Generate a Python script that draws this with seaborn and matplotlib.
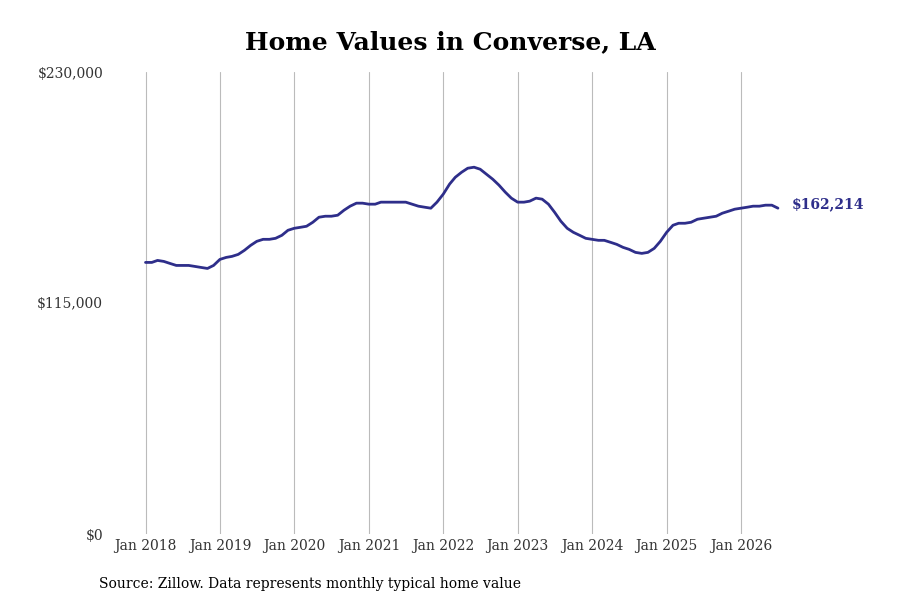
import matplotlib
matplotlib.use("Agg")
import matplotlib.pyplot as plt
import seaborn as sns
import pandas as pd

values_k = [
 135.2,135.2,136.2,135.7,134.7,133.7,133.7,133.7,133.2,132.7,132.2,133.7,
 136.7,137.7,138.2,139.2,141.2,143.7,145.7,146.7,146.7,147.2,148.7,151.2,
 152.2,152.7,153.2,155.2,157.7,158.2,158.2,158.7,161.2,163.2,164.7,164.7,
 164.2,164.2,165.2,165.2,165.2,165.2,165.2,164.2,163.2,162.7,162.2,165.2,
 169.2,174.2,177.6,180.1,182.1,182.6,181.6,179.1,176.6,173.7,170.2,167.2,
 165.2,165.2,165.7,167.2,166.7,164.2,160.2,155.7,152.2,150.2,148.7,147.2,
 146.7,146.2,146.2,145.2,144.2,142.7,141.7,140.2,139.7,140.2,142.2,145.7,
 150.2,153.7,154.7,154.7,155.2,156.7,157.2,157.7,158.2,159.7,160.7,161.7,
 162.2,162.7,163.2,163.2,163.7,163.7,162.214,
]
dates = pd.date_range("2018-01-01", periods=len(values_k), freq="MS")
values = [v * 1000 for v in values_k]
df = pd.DataFrame({"date": dates, "value": values})

sns.set_theme(style="white")
plt.rcParams["font.family"] = ["DejaVu Serif"]
fig, ax = plt.subplots(figsize=(9, 6), dpi=100)
fig.subplots_adjust(left=0.12, right=0.88, top=0.88, bottom=0.11)
sns.lineplot(data=df, x="date", y="value", ax=ax, color="#2e2e8a", linewidth=2)
ax.set_ylim(0, 230000)
ax.set_yticks([0, 115000, 230000])
ax.set_yticklabels(["$0", "$115,000", "$230,000"], fontsize=10, color="#333333")
ticks = pd.date_range("2018-01-01", "2026-01-01", freq="YS")
ax.set_xticks(ticks)
ax.set_xticklabels([f"Jan {d.year}" for d in ticks], fontsize=10, color="#333333")
ax.set_xlim(pd.Timestamp("2017-07-01"), pd.Timestamp("2026-09-08"))
ax.grid(axis="x", color="#bbbbbb", linewidth=0.8)
ax.grid(axis="y", visible=False)
for s in ax.spines.values():
    s.set_visible(False)
ax.tick_params(axis="both", length=0)
ax.set_xlabel(""); ax.set_ylabel("")
ax.annotate(f"${values[-1]:,.0f}", (df["date"].iloc[-1], values[-1]), xytext=(10, 3),
            textcoords="offset points", va="center", fontsize=10, fontweight="bold",
            color="#2e2e8a", annotation_clip=False)
fig.suptitle("Home Values in Converse, LA", fontsize=18, fontweight="bold", y=0.95, color="black")
fig.text(0.11, 0.02, "Source: Zillow. Data represents monthly typical home value", fontsize=10, color="black")
fig.savefig("out.png")
